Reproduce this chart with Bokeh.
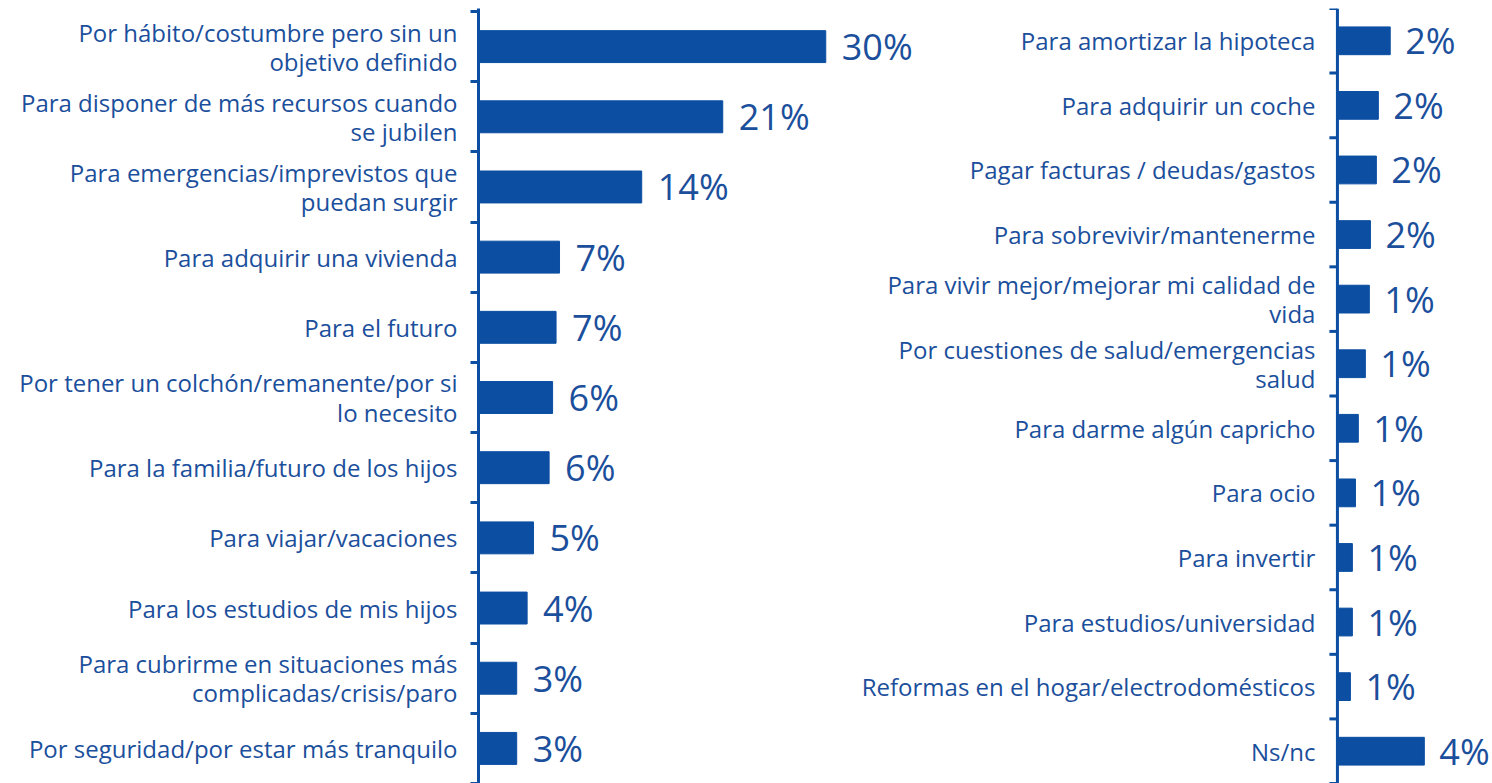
import math
from bokeh.plotting import figure
from bokeh.models import Range1d, FixedTicker, ColumnDataSource
from bokeh.embed import file_html
from bokeh.resources import INLINE
from bokeh.core.properties import value

# ---- data ----
left_categories = [
    "Por hábito/costumbre pero sin un\nobjetivo definido",
    "Para disponer de más recursos cuando\nse jubilen",
    "Para emergencias/imprevistos que\npuedan surgir",
    "Para adquirir una vivienda",
    "Para el futuro",
    "Por tener un colchón/remanente/por si\nlo necesito",
    "Para la familia/futuro de los hijos",
    "Para viajar/vacaciones",
    "Para los estudios de mis hijos",
    "Para cubrirme en situaciones más\ncomplicadas/crisis/paro",
    "Por seguridad/por estar más tranquilo",
]
left_values = [30.0, 21.1, 14.1, 7.0, 6.7, 6.4, 6.1, 4.75, 4.2, 3.3, 3.3]
left_labels = ["30%", "21%", "14%", "7%", "7%", "6%", "6%", "5%", "4%", "3%", "3%"]

right_categories = [
    "Para amortizar la hipoteca",
    "Para adquirir un coche",
    "Pagar facturas / deudas/gastos",
    "Para sobrevivir/mantenerme",
    "Para vivir mejor/mejorar mi calidad de\nvida",
    "Por cuestiones de salud/emergencias\nsalud",
    "Para darme algún capricho",
    "Para ocio",
    "Para invertir",
    "Para estudios/universidad",
    "Reformas en el hogar/electrodomésticos",
    "Ns/nc",
]
right_values = [2.4, 1.86, 1.77, 1.5, 1.45, 1.27, 0.95, 0.82, 0.68, 0.68, 0.59, 3.95]
right_labels = ["2%", "2%", "2%", "2%", "1%", "1%", "1%", "1%", "1%", "1%", "1%", "4%"]

BLUE = "#0b4ea2"
TEXT = "#1b4f9c"
FONT = "Open Sans"
CAT_SIZE = "24px"
VAL_SIZE = "36px"
LINE_H = 0.88

nL = len(left_categories)
nR = len(right_categories)
posL = list(range(1, nL + 1))
posR = list(range(1, nR + 1))

p = figure(width=1492, height=783, output_backend="svg", toolbar_location=None,
           x_range=Range1d(0, 87.6), y_range=Range1d(11.5, 0.457),
           x_axis_location=None, min_border_left=478, min_border_right=0,
           min_border_top=8, min_border_bottom=0)
p.extra_x_ranges = {"r": Range1d(-39.05, 7.05)}
p.extra_y_ranges = {"r": Range1d(12.5, 0.5)}
p.outline_line_color = None
p.grid.visible = False

# ---- left panel ----
srcL = ColumnDataSource(dict(y=posL, v=left_values, lab=left_labels))
p.hbar(y="y", left=0, right="v", height=0.455, color=BLUE, source=srcL)
p.text(x="v", y="y", text="lab", source=srcL, x_offset=16, text_baseline="middle",
       text_align="left", text_font=value(FONT), text_font_size=VAL_SIZE, text_color=TEXT)

ax = p.yaxis[0]
ax.ticker = FixedTicker(ticks=posL, minor_ticks=[i + 0.5 for i in range(nL + 1)])
ax.major_label_overrides = {i + 1: c for i, c in enumerate(left_categories)}
ax.major_tick_out = 0
ax.major_tick_in = 0
ax.minor_tick_out = 8
ax.minor_tick_in = 0
ax.minor_tick_line_color = BLUE
ax.minor_tick_line_width = 3
ax.axis_line_color = BLUE
ax.axis_line_width = 3
ax.major_label_standoff = 13
ax.major_label_text_font = FONT
ax.major_label_text_font_size = CAT_SIZE
ax.major_label_text_color = TEXT
ax.major_label_text_line_height = LINE_H

# ---- right panel (same figure, own ranges) ----
srcR = ColumnDataSource(dict(y=posR, v=right_values, lab=right_labels,
                             cat=right_categories, zero=[0] * nR))
p.hbar(y="y", left=0, right="v", height=0.43, color=BLUE, source=srcR,
       x_range_name="r", y_range_name="r")
p.text(x="v", y="y", text="lab", source=srcR, x_offset=15, text_baseline="middle",
       text_align="left", text_font=value(FONT), text_font_size=VAL_SIZE, text_color=TEXT,
       x_range_name="r", y_range_name="r")
p.text(x="zero", y="y", text="cat", source=srcR, x_offset=-22, text_baseline="middle",
       text_align="right", text_font=value(FONT), text_font_size=CAT_SIZE, text_color=TEXT,
       text_line_height=LINE_H, x_range_name="r", y_range_name="r")
# axis line and boundary ticks
p.segment(x0=[0], y0=[0.5], x1=[0], y1=[nR + 0.5], line_color=BLUE, line_width=3,
          x_range_name="r", y_range_name="r")
bounds = [i + 0.5 for i in range(nR + 1)]
p.ray(x=[0] * len(bounds), y=bounds, length=8, length_units="screen", angle=math.pi,
      line_color=BLUE, line_width=3, x_range_name="r", y_range_name="r")

open("out.html", "w").write(file_html(p, INLINE))
